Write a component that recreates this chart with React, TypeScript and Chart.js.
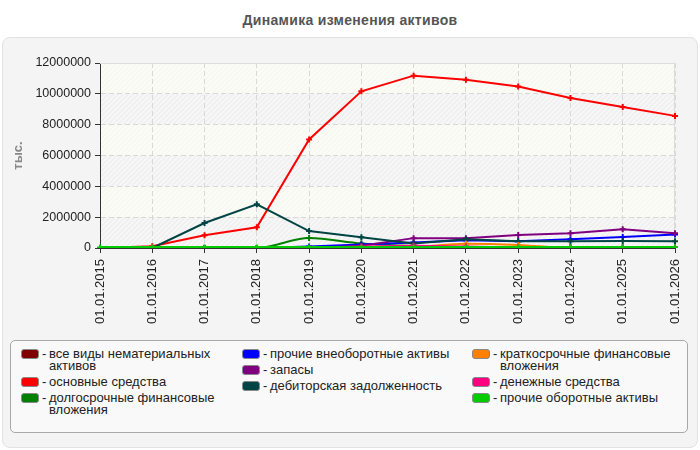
import React, { useEffect, useRef } from "react";
import { Chart, registerables } from "chart.js";

Chart.register(...registerables);

// Reporting dates (x axis)
const dates = [
  "01.01.2015", "01.01.2016", "01.01.2017", "01.01.2018", "01.01.2019", "01.01.2020",
  "01.01.2021", "01.01.2022", "01.01.2023", "01.01.2024", "01.01.2025", "01.01.2026",
];

// Asset values, thousands
const intangibles = [0, 0, 0, 0, 0, 0, 0, 0, 0, 0, 0, 0];
const fixedAssets = [0, 120000, 820000, 1340000, 7040000, 10160000, 11180000, 10920000, 10470000, 9730000, 9150000, 8570000];
const longTermInvestments = [0, 0, 0, 0, 650000, 300000, 130000, 60000, 50000, 50000, 50000, 50000];
const otherNonCurrent = [0, 0, 0, 0, 100000, 220000, 350000, 500000, 440000, 570000, 710000, 880000];
const inventories = [0, 0, 0, 0, 0, 150000, 640000, 640000, 850000, 950000, 1220000, 950000];
const receivables = [0, 0, 1620000, 2830000, 1100000, 690000, 300000, 560000, 430000, 430000, 450000, 430000];
const shortTermInvestments = [0, 0, 0, 0, 0, 0, 50000, 280000, 200000, 0, 0, 0];
const cash = [0, 0, 0, 0, 0, 100000, 150000, 100000, 30000, 30000, 30000, 30000];
const otherCurrent = [40000, 40000, 40000, 40000, 40000, 40000, 40000, 40000, 40000, 40000, 40000, 40000];

// Y axis ticks
const yMin = 0;
const yMax = 12000000;
const yStep = 2000000;

const seriesNames = [
  "все виды нематериальных активов",
  "основные средства",
  "долгосрочные финансовые вложения",
  "прочие внеоборотные активы",
  "запасы",
  "дебиторская задолженность",
  "краткосрочные финансовые вложения",
  "денежные средства",
  "прочие оборотные активы",
];
const seriesColors = [
  "#800000", "#ff0000", "#008000", "#0000ff", "#800080",
  "#004444", "#ff8000", "#ff0080", "#00cc00",
];
const seriesValues = [
  intangibles, fixedAssets, longTermInvestments, otherNonCurrent, inventories,
  receivables, shortTermInvestments, cash, otherCurrent,
];
const smoothSeries = [2, 6];

// legend layout: which series go in which column
const legendColumns = [[0, 1, 2], [3, 4, 5], [6, 7, 8]];

const FONT = "'Liberation Sans', Arial, sans-serif";

function makeHatch(base: string, stripe: string, size: number, width: number) {
  const c = document.createElement("canvas");
  c.width = size;
  c.height = size;
  const g = c.getContext("2d")!;
  g.fillStyle = base;
  g.fillRect(0, 0, size, size);
  g.strokeStyle = stripe;
  g.lineWidth = width;
  g.beginPath();
  g.moveTo(0, size);
  g.lineTo(size, 0);
  g.moveTo(-size / 2, size / 2);
  g.lineTo(size / 2, -size / 2);
  g.moveTo(size / 2, size + size / 2);
  g.lineTo(size + size / 2, size / 2);
  g.stroke();
  return g.createPattern(c, "repeat")!;
}

const plotBackground = {
  id: "plotBackground",
  beforeDraw(chart: any) {
    const { ctx, chartArea: a, scales } = chart;
    const y = scales.y;
    const ivory = makeHatch("#fcfcf6", "#f6f6f0", 5, 1.2);
    const grey = makeHatch("#f0f0f0", "#f9f9f9", 5, 1.4);
    ctx.save();
    ctx.fillStyle = ivory;
    ctx.fillRect(a.left, a.top, a.right - a.left, a.bottom - a.top);
    ctx.fillStyle = grey;
    for (let v = yMin; v < yMax; v += 2 * yStep) {
      const y1 = y.getPixelForValue(v);
      const y2 = y.getPixelForValue(v + yStep);
      ctx.fillRect(a.left, y2, a.right - a.left, y1 - y2);
    }
    ctx.restore();
  },
  beforeDatasetsDraw(chart: any) {
    const { ctx, chartArea: a } = chart;
    ctx.save();
    ctx.strokeStyle = "#dcdcdc";
    ctx.lineWidth = 1;
    ctx.beginPath();
    ctx.moveTo(a.left, a.top + 0.5);
    ctx.lineTo(a.right - 0.5, a.top + 0.5);
    ctx.lineTo(a.right - 0.5, a.bottom);
    ctx.stroke();
    ctx.restore();
  },
};

function AssetsChart() {
  const ref = useRef<HTMLCanvasElement | null>(null);

  useEffect(() => {
    if (!ref.current) return;
    Chart.defaults.font.family = FONT;
    const n = seriesNames.length;
    const chart = new Chart(ref.current, {
      type: "line",
      data: {
        labels: dates,
        datasets: seriesNames.map((name, i) => ({
          label: name,
          data: seriesValues[i],
          borderColor: seriesColors[i],
          backgroundColor: seriesColors[i],
          borderWidth: i === 8 ? 3 : 2,
          pointStyle: "cross",
          pointRadius: 3,
          pointBorderWidth: 2,
          pointBorderColor: seriesColors[i],
          fill: false,
          cubicInterpolationMode: smoothSeries.includes(i) ? "monotone" : "default",
          order: n - i,
        })),
      },
      options: {
        animation: false,
        responsive: false,
        maintainAspectRatio: false,
        layout: { padding: { left: 8, right: 25, top: 63, bottom: 0 } },
        plugins: {
          legend: { display: false },
          title: { display: false },
          tooltip: { enabled: false },
        },
        scales: {
          x: {
            offset: false,
            afterFit: (s: any) => {
              s.height = 92;
            },
            grid: {
              color: "#d8d8d8",
              tickColor: "#333",
              tickLength: 5,
              tickBorderDash: [],
            },
            border: { display: true, color: "#333", width: 1, dash: [5, 3] },
            ticks: {
              color: "#222",
              font: { size: 13 },
              minRotation: 90,
              maxRotation: 90,
              padding: 6,
              autoSkip: false,
            },
          },
          y: {
            min: yMin,
            max: yMax,
            afterFit: (s: any) => {
              s.width = 92;
            },
            grid: {
              color: "#d8d8d8",
              tickColor: "#333",
              tickLength: 5,
              tickBorderDash: [],
            },
            border: { display: true, color: "#333", width: 1, dash: [5, 3] },
            ticks: {
              stepSize: yStep,
              color: "#222",
              font: { size: 12.5 },
              padding: 4,
              callback: (v: any) => String(v),
            },
            title: {
              display: true,
              text: "тыс.",
              color: "#888",
              font: { size: 13, weight: "bold" },
              padding: { top: 3, bottom: 0 },
            },
          },
        },
      },
      plugins: [plotBackground],
    } as any);
    return () => chart.destroy();
  }, []);

  return (
    <canvas
      ref={ref}
      width={700}
      height={340}
      style={{ position: "absolute", left: 0, top: 0, width: 700, height: 340 }}
    />
  );
}

function Legend() {
  const colLefts = [10, 231, 461];
  return (
    <div
      style={{
        position: "absolute",
        left: 10,
        top: 340,
        width: 676,
        height: 91,
        border: "1px solid #a8a8a8",
        borderRadius: 5,
        background: "#f9f9f9",
        fontFamily: FONT,
        fontSize: 13,
        lineHeight: "12px",
        color: "#222",
      }}
    >
      {legendColumns.map((col, ci) => (
        <div key={ci} style={{ position: "absolute", left: colLefts[ci], top: 7 }}>
          {col.map((si) => (
            <div key={si} style={{ display: "flex", alignItems: "flex-start", marginBottom: 4 }}>
              <span
                style={{
                  display: "inline-block",
                  width: 16,
                  height: 8,
                  marginTop: 1,
                  background: seriesColors[si],
                  border: "1px solid #888",
                  borderRadius: 3,
                  flex: "none",
                }}
              />
              <span style={{ width: 10, paddingLeft: 3, boxSizing: "border-box", flex: "none" }}>-</span>
              <span style={{ maxWidth: 180 }}>{seriesNames[si]}</span>
            </div>
          ))}
        </div>
      ))}
    </div>
  );
}

export default function App() {
  return (
    <div
      style={{
        position: "fixed",
        left: 0,
        top: 0,
        width: 700,
        height: 450,
        background: "#ffffff",
        fontFamily: FONT,
      }}
    >
      <div
        style={{
          position: "absolute",
          left: 0,
          top: 12,
          width: 700,
          textAlign: "center",
          fontWeight: "bold",
          fontSize: 14,
          letterSpacing: "0.3px",
          lineHeight: "16px",
          color: "#555",
        }}
      >
        Динамика изменения активов
      </div>
      <div
        style={{
          position: "absolute",
          left: 2,
          top: 37,
          width: 694,
          height: 409,
          border: "1px solid #e2e2e2",
          borderRadius: 8,
          background: "#f4f4f4",
        }}
      />
      <AssetsChart />
      <Legend />
    </div>
  );
}
